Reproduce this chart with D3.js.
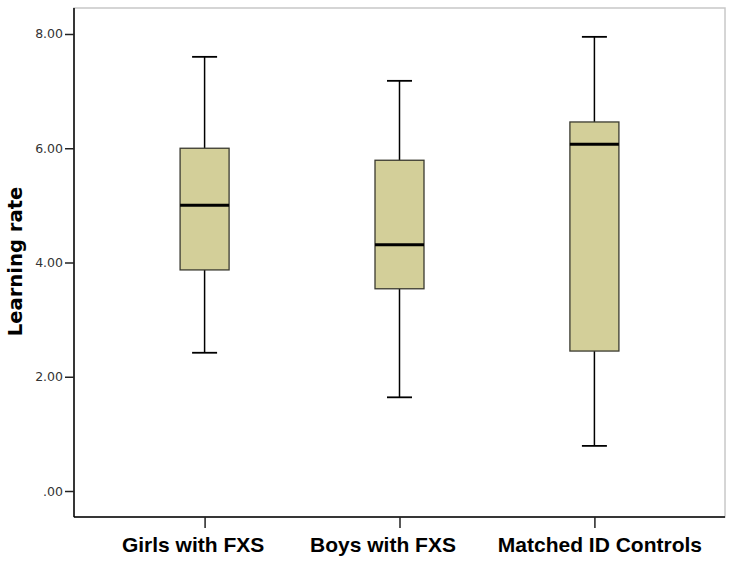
<!DOCTYPE html>
<html><head><meta charset="utf-8">
<script src="https://cdn.jsdelivr.net/npm/d3@7"></script>
<style>body{margin:0;background:#fff}</style>
</head><body><svg id="c" width="734" height="563"></svg>
<script>
const categories = ["Girls with FXS", "Boys with FXS", "Matched ID Controls"];
const whiskerLow = [2.42, 1.64, 0.79];
const q1 = [3.87, 3.54, 2.45];
const median = [5.0, 4.31, 6.07];
const q3 = [6.0, 5.79, 6.46];
const whiskerHigh = [7.6, 7.18, 7.95];
const yTicks = [0, 2, 4, 6, 8];
const yTickLabels = [".00", "2.00", "4.00", "6.00", "8.00"];
const labelShift = [-12, -17, 5];

const data = categories.map((c, i) => ({c, lo: whiskerLow[i], q1: q1[i], med: median[i], q3: q3[i], hi: whiskerHigh[i]}));

const svg = d3.select("#c");
const pL = 74, pR = 725, pT = 8, pB = 517;
const x = d3.scalePoint().domain(categories).range([pL, pR]).padding(0.67);
const y = d3.scaleLinear().domain([-0.455, 8.455]).range([pB, pT]);

// frame
svg.append("rect").attr("x", pL).attr("y", pT).attr("width", pR - pL).attr("height", pB - pT)
  .attr("fill", "none").attr("stroke", "#c8c8c8").attr("stroke-width", 1.5);

const boxW = 49, capW = 25;
const g = svg.append("g");
data.forEach(d => {
  const cx = x(d.c);
  g.append("line").attr("x1", cx).attr("x2", cx).attr("y1", y(d.hi)).attr("y2", y(d.q3)).attr("stroke", "#000").attr("stroke-width", 1.5);
  g.append("line").attr("x1", cx).attr("x2", cx).attr("y1", y(d.q1)).attr("y2", y(d.lo)).attr("stroke", "#000").attr("stroke-width", 1.5);
  g.append("line").attr("x1", cx - capW/2).attr("x2", cx + capW/2).attr("y1", y(d.hi)).attr("y2", y(d.hi)).attr("stroke", "#000").attr("stroke-width", 1.8);
  g.append("line").attr("x1", cx - capW/2).attr("x2", cx + capW/2).attr("y1", y(d.lo)).attr("y2", y(d.lo)).attr("stroke", "#000").attr("stroke-width", 1.8);
  g.append("rect").attr("x", cx - boxW/2).attr("y", y(d.q3)).attr("width", boxW).attr("height", y(d.q1) - y(d.q3))
    .attr("fill", "#d3cf99").attr("stroke", "#3a3a30").attr("stroke-width", 1.3);
  g.append("line").attr("x1", cx - boxW/2).attr("x2", cx + boxW/2).attr("y1", y(d.med)).attr("y2", y(d.med)).attr("stroke", "#000").attr("stroke-width", 3);
});

// y axis
const yAxis = d3.axisLeft(y).tickValues(yTicks).tickFormat((d, i) => yTickLabels[i]).tickSize(9).tickPadding(2);
const ya = svg.append("g").attr("transform", `translate(${pL},0)`).call(yAxis);
ya.select(".domain").attr("stroke", "#000").attr("stroke-width", 1.5).attr("d", `M0,${pT}V${pB}`);
ya.selectAll(".tick line").attr("stroke", "#222").attr("stroke-width", 1.5);
ya.selectAll(".tick text").attr("font-family", "DejaVu Sans, Verdana, sans-serif").attr("font-size", 12.5).attr("fill", "#333");

// x axis
const xAxis = d3.axisBottom(x).tickSize(11).tickPadding(9);
const xa = svg.append("g").attr("transform", `translate(0,${pB})`).call(xAxis);
xa.select(".domain").attr("stroke", "#000").attr("stroke-width", 1.5).attr("d", `M${pL},0H${pR}`);
xa.selectAll(".tick line").attr("stroke", "#222").attr("stroke-width", 1.5);
xa.selectAll(".tick text").attr("font-family", "Liberation Sans, Arial, sans-serif").attr("font-weight", "bold").attr("font-size", 21).attr("fill", "#000")
  .attr("dx", (d, i) => labelShift[i]);

svg.append("text").attr("transform", `translate(22,${(pT + pB) / 2 - 1}) rotate(-90)`)
  .attr("text-anchor", "middle").attr("font-family", "DejaVu Sans, Verdana, sans-serif").attr("font-weight", "bold")
  .attr("font-size", 19.6).attr("fill", "#000").text("Learning rate");
</script></body></html>
